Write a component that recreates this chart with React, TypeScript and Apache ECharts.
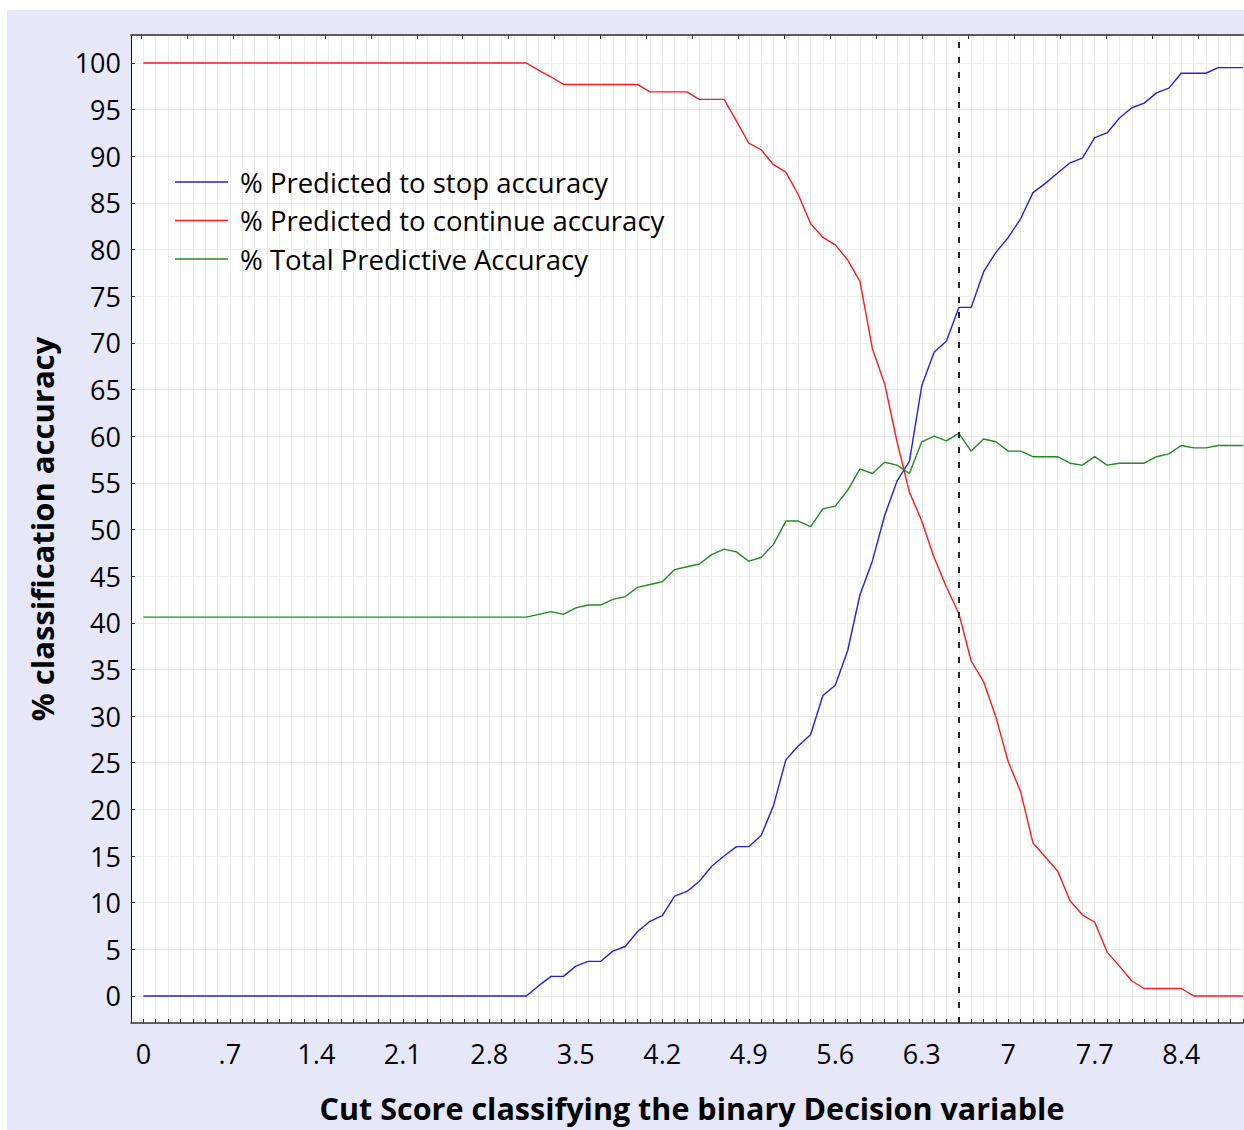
import React, { useEffect, useRef } from "react";
import * as echarts from "echarts";

// Cut scores (x values), step 0.1 from 0 to 8.9
const CUT_SCORES: number[] = [
  0.0, 0.1, 0.2, 0.3, 0.4, 0.5, 0.6, 0.7, 0.8, 0.9,
  1.0, 1.1, 1.2, 1.3, 1.4, 1.5, 1.6, 1.7, 1.8, 1.9,
  2.0, 2.1, 2.2, 2.3, 2.4, 2.5, 2.6, 2.7, 2.8, 2.9,
  3.0, 3.1, 3.2, 3.3, 3.4, 3.5, 3.6, 3.7, 3.8, 3.9,
  4.0, 4.1, 4.2, 4.3, 4.4, 4.5, 4.6, 4.7, 4.8, 4.9,
  5.0, 5.1, 5.2, 5.3, 5.4, 5.5, 5.6, 5.7, 5.8, 5.9,
  6.0, 6.1, 6.2, 6.3, 6.4, 6.5, 6.6, 6.7, 6.8, 6.9,
  7.0, 7.1, 7.2, 7.3, 7.4, 7.5, 7.6, 7.7, 7.8, 7.9,
  8.0, 8.1, 8.2, 8.3, 8.4, 8.5, 8.6, 8.7, 8.8, 8.9,
];

const STOP_ACCURACY: number[] = [
  0, 0, 0, 0, 0, 0, 0, 0, 0, 0,
  0, 0, 0, 0, 0, 0, 0, 0, 0, 0,
  0, 0, 0, 0, 0, 0, 0, 0, 0, 0,
  0, 0, 1.1, 2.1, 2.1, 3.2, 3.7, 3.7, 4.8, 5.3,
  6.9, 8.0, 8.6, 10.7, 11.2, 12.3, 13.9, 15.0, 16.0, 16.0,
  17.2, 20.4, 25.3, 26.8, 28.0, 32.2, 33.3, 37.0, 43.0, 46.6,
  51.5, 55.2, 57.3, 65.4, 69.0, 70.2, 73.8, 73.8, 77.6, 79.7,
  81.3, 83.3, 86.1, 87.1, 88.2, 89.3, 89.8, 92.0, 92.5, 94.1,
  95.2, 95.7, 96.8, 97.3, 98.9, 98.9, 98.9, 99.5, 99.5, 99.5,
];

const CONTINUE_ACCURACY: number[] = [
  100, 100, 100, 100, 100, 100, 100, 100, 100, 100,
  100, 100, 100, 100, 100, 100, 100, 100, 100, 100,
  100, 100, 100, 100, 100, 100, 100, 100, 100, 100,
  100, 100, 99.2, 98.5, 97.7, 97.7, 97.7, 97.7, 97.7, 97.7,
  97.7, 96.9, 96.9, 96.9, 96.9, 96.1, 96.1, 96.1, 93.8, 91.4,
  90.7, 89.1, 88.3, 85.9, 82.8, 81.3, 80.5, 78.9, 76.6, 69.4,
  65.6, 59.4, 54.0, 50.9, 47.0, 43.8, 41.0, 35.9, 33.7, 29.9,
  25.1, 21.9, 16.4, 14.9, 13.4, 10.2, 8.7, 7.9, 4.7, 3.2,
  1.6, 0.8, 0.8, 0.8, 0.8, 0, 0, 0, 0, 0,
];

const TOTAL_ACCURACY: number[] = [
  40.6, 40.6, 40.6, 40.6, 40.6, 40.6, 40.6, 40.6, 40.6, 40.6,
  40.6, 40.6, 40.6, 40.6, 40.6, 40.6, 40.6, 40.6, 40.6, 40.6,
  40.6, 40.6, 40.6, 40.6, 40.6, 40.6, 40.6, 40.6, 40.6, 40.6,
  40.6, 40.6, 40.9, 41.2, 40.9, 41.6, 41.9, 41.9, 42.5, 42.8,
  43.8, 44.1, 44.4, 45.7, 46.0, 46.3, 47.3, 47.9, 47.6, 46.6,
  47.0, 48.4, 50.9, 50.9, 50.3, 52.2, 52.5, 54.2, 56.5, 56.0,
  57.2, 56.9, 56.0, 59.4, 60.0, 59.5, 60.3, 58.4, 59.7, 59.4,
  58.4, 58.4, 57.8, 57.8, 57.8, 57.1, 56.9, 57.8, 56.9, 57.1,
  57.1, 57.1, 57.8, 58.1, 59.0, 58.75, 58.75, 59.0, 59.0, 59.0,
];

const X_LABEL_VALUES: number[] = [0, 0.7, 1.4, 2.1, 2.8, 3.5, 4.2, 4.9, 5.6, 6.3, 7, 7.7, 8.4];
const X_LABELS: string[] = ["0", ".7", "1.4", "2.1", "2.8", "3.5", "4.2", "4.9", "5.6", "6.3", "7", "7.7", "8.4"];
const Y_TICKS: number[] = [0, 5, 10, 15, 20, 25, 30, 35, 40, 45, 50, 55, 60, 65, 70, 75, 80, 85, 90, 95, 100];
const TOP_TICKS: number[] = [0, 1, 2, 3, 4, 5, 6, 7, 8, 9, 10, 11, 12, 13, 14, 15, 16, 17, 18, 19, 20, 21, 22, 23];
const CUTOFF = 6.6;

const SERIES_NAMES = [
  "% Predicted to stop accuracy",
  "% Predicted to continue accuracy",
  "% Total Predictive Accuracy",
];

const FONT = "'Open Sans', 'Noto Sans', 'DejaVu Sans', sans-serif";

function pairs(values: number[]): number[][] {
  return CUT_SCORES.map((x, i) => [x, values[i]]);
}

export default function App() {
  const ref = useRef<HTMLDivElement | null>(null);

  useEffect(() => {
    if (!ref.current) return;
    const chart = echarts.init(ref.current, undefined, { renderer: "svg" });
    const gridColor = "#ececec";
    const option: any = {
      animation: false,
      backgroundColor: "#ffffff",
      textStyle: { fontFamily: FONT },
      graphic: [
        {
          type: "rect",
          z: -100,
          silent: true,
          shape: { x: 7, y: 10, width: 1237, height: 1120 },
          style: { fill: "#e6e8fa" },
        },
        {
          type: "text",
          z: 100,
          x: 692,
          y: 1108,
          style: {
            text: "Cut Score classifying the binary Decision variable",
            font: `bold 30.5px ${FONT}`,
            fill: "#000",
            align: "center",
            verticalAlign: "middle",
          },
        },
        {
          type: "text",
          z: 100,
          x: 42,
          y: 529,
          rotation: Math.PI / 2,
          style: {
            text: "% classification accuracy",
            font: `bold 31px ${FONT}`,
            fill: "#000",
            align: "center",
            verticalAlign: "middle",
          },
        },
      ],
      grid: {
        left: 131,
        right: 1,
        top: 35,
        bottom: 107,
        show: true,
        backgroundColor: "#ffffff",
        borderWidth: 0,
        containLabel: false,
      },
      legend: {
        orient: "vertical",
        left: 175,
        top: 167,
        padding: 0,
        icon: "rect",
        itemWidth: 53,
        itemHeight: 1.3,
        itemGap: 8.5,
        data: SERIES_NAMES,
        textStyle: {
          fontFamily: FONT,
          fontSize: 27.5,
          color: "#000",
          lineHeight: 30,
          padding: [0, 0, 0, 7],
        },
      },
      xAxis: [
        {
          type: "value",
          position: "bottom",
          min: -0.1,
          max: 8.9,
          interval: 0.1,
          axisLine: { show: true, onZero: false, lineStyle: { color: "#333", width: 1.5 } },
          axisTick: { show: true, inside: true, length: 4, lineStyle: { color: "#333" } },
          axisLabel: {
            customValues: X_LABEL_VALUES,
            fontSize: 27,
            color: "#000",
            fontFamily: FONT,
            margin: 17,
            formatter: (v: number) => {
              const idx = X_LABEL_VALUES.findIndex((t) => Math.abs(t - v) < 1e-6);
              return idx >= 0 ? X_LABELS[idx] : "";
            },
          },
          splitLine: { show: true, lineStyle: { color: gridColor, width: 1 } },
        },
        {
          type: "value",
          position: "top",
          min: -0.2176,
          max: 23.978,
          axisLine: { show: true, onZero: false, lineStyle: { color: "#5a5a5a", width: 2 } },
          axisTick: { show: true, inside: true, length: 4, customValues: TOP_TICKS, lineStyle: { color: "#333" } },
          axisLabel: { show: false },
          splitLine: { show: false },
        },
      ],
      yAxis: {
        type: "value",
        min: -2.9,
        max: 103,
        axisLine: { show: true, onZero: false, lineStyle: { color: "#111", width: 1 } },
        axisTick: { show: true, inside: true, length: 4, customValues: Y_TICKS, lineStyle: { color: "#333" } },
        axisLabel: {
          customValues: Y_TICKS,
          fontSize: 27,
          color: "#000",
          fontFamily: FONT,
          margin: 10,
        },
        splitLine: { show: true, lineStyle: { color: gridColor, width: 1 } },
      },
      series: [
        {
          name: SERIES_NAMES[0],
          type: "line",
          xAxisIndex: 0,
          symbol: "none",
          data: pairs(STOP_ACCURACY),
          lineStyle: { color: "#2222dd", width: 1.4 },
          itemStyle: { color: "#2222dd" },
          z: 3,
          markLine: {
            silent: true,
            symbol: ["none", "none"],
            label: { show: false },
            lineStyle: { type: [6, 9], width: 2, color: "#222", opacity: 1 },
            emphasis: { disabled: true },
            data: [{ xAxis: CUTOFF }],
          },
        },
        {
          name: SERIES_NAMES[1],
          type: "line",
          xAxisIndex: 0,
          symbol: "none",
          data: pairs(CONTINUE_ACCURACY),
          lineStyle: { color: "#ff1a1a", width: 1.4 },
          itemStyle: { color: "#ff1a1a" },
          z: 3,
        },
        {
          name: SERIES_NAMES[2],
          type: "line",
          xAxisIndex: 0,
          symbol: "none",
          data: pairs(TOTAL_ACCURACY),
          lineStyle: { color: "#1e8c1e", width: 1.4 },
          itemStyle: { color: "#1e8c1e" },
          z: 3,
        },
      ],
    };
    chart.setOption(option);
    return () => {
      chart.dispose();
    };
  }, []);

  return (
    <div
      ref={ref}
      style={{ position: "absolute", left: 0, top: 0, width: 1244, height: 1130 }}
    />
  );
}
